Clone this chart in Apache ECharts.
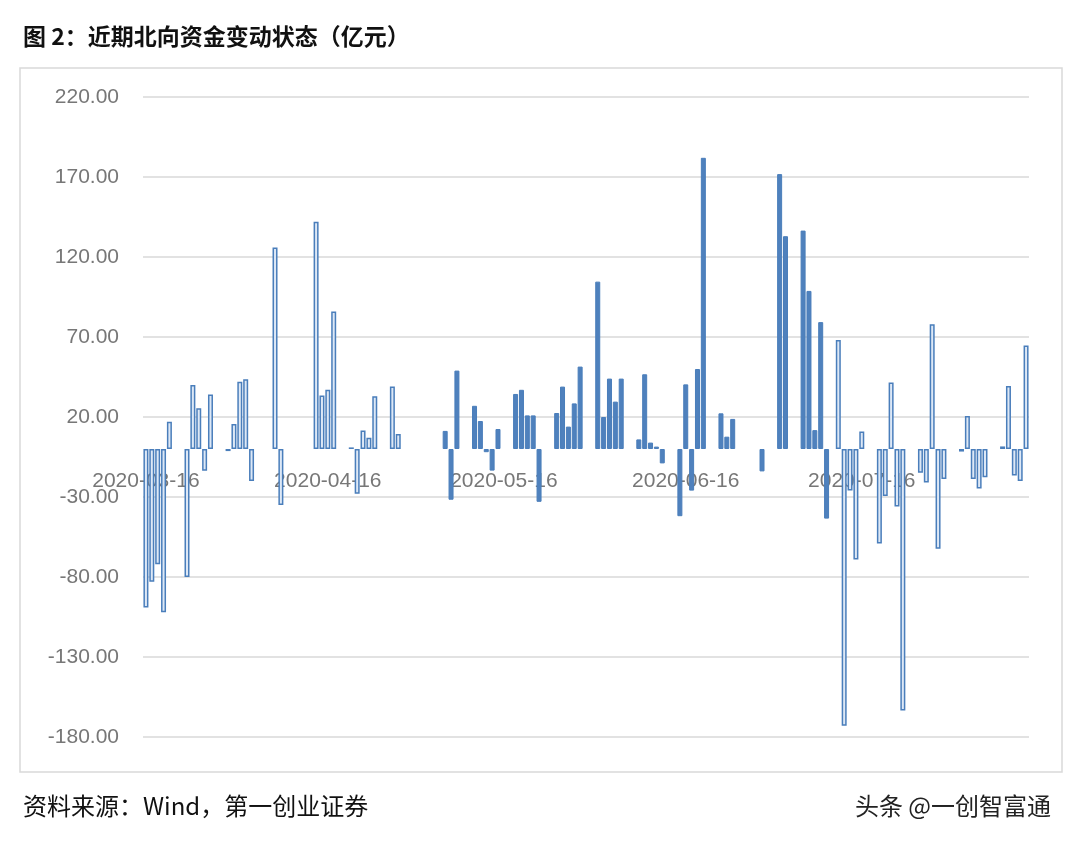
<!DOCTYPE html>
<html>
<head>
<meta charset="utf-8">
<script src="https://cdn.jsdelivr.net/npm/echarts@6/dist/echarts.min.js"></script>
<style>
body { margin: 0; background: #fff; }
#main { width: 1080px; height: 846px; }
</style>
</head>
<body>
<div id="main"></div>
<script>
// 日历天序号（从 2020-03-16 起）与当日北向资金净流入（亿元）
var dayIndex = [0, 1, 2, 3, 4, 7, 8, 9, 10, 11, 14, 15, 16, 17, 18, 22, 23, 29, 30, 31, 32,
	35, 36, 37, 38, 39, 42, 43,
	51, 52, 53, 56, 57, 58, 59, 60, 63, 64, 65, 66, 67, 70, 71, 72, 73, 74, 77, 78, 79, 80, 81,
	84, 85, 86, 87, 88, 91, 92, 93, 94, 95, 98, 99, 100,
	105, 108, 109, 112, 113, 114, 115, 116, 118, 119, 120, 121, 122, 125, 126, 127, 128, 129,
	132, 133, 134, 135, 136, 139, 140, 141, 142, 143, 146, 147, 148, 149, 150];
var netFlow = [-99, -83, -72, -102, 17, -80, 40, 25.5, -13.6, 34, -1.3, 15.7, 42, 43.6, -20, 126, -35, 142, 33.5, 37, 86,
	1, -28, 11.6, 7, 33, 39, 9.4,
	11.3, -31.7, 49, 27, 17.5, -2, -13.5, 12.5, 34.4, 37, 21, 21, -33, 22.5, 39, 14, 28.5, 51.5, 104.6, 20, 44, 29.6, 44,
	6, 46.7, 4, 1.5, -9, -42, 40.4, -26, 50, 182, 22.3, 7.7, 18.8,
	-14, 171.8, 133, 136.5, 98.8, 11.8, 79.3, -43.5, 68.2, -173, -26, -69, 11, -59, -29.4, 41.6, -36, -163.5,
	-14.8, -21, 78, -62.4, -18.8, -1.6, 20.7, -18.8, -24.7, -17.6, 1.6, 39.3, -16.5, -20, 64.7];
var startDate = '2020-03-16';
var dayCount = 151;
var yTicks = { min: -180, max: 220, step: 50 };

var pa = {
	buildDates: function() {
		var d0 = new Date(startDate + 'T00:00:00Z');
		var out = [];
		for (var i = 0; i < dayCount; i++) {
			var d = new Date(d0.getTime() + i * 86400000);
			out.push(d.toISOString().slice(0, 10));
		}
		return out;
	},
	buildSeries: function() {
		var arr = [];
		for (var i = 0; i < dayCount; i++) arr.push(null);
		for (var k = 0; k < dayIndex.length; k++) {
			var idx = dayIndex[k];
			var solid = idx > 44 && idx < 117;
			arr[idx] = {
				value : netFlow[k],
				itemStyle : solid ? { color : '#4f81bd', borderColor : '#4a7ebb', borderWidth : 1 }
					: { color : '#dde8f6', borderColor : '#4a7ebb', borderWidth : 1.5 }
			};
		}
		return arr;
	},
	render: function() {
		var chart = echarts.init(document.getElementById('main'));
		var option = {
			animation : false,
			title : [ {
				text : '图 2：近期北向资金变动状态（亿元）',
				left : 18, top : 20,
				textStyle : { fontSize : 23, fontWeight : 'bold', color : '#111',
					fontFamily : 'Noto Sans CJK SC' }
			}, {
				text : '资料来源：Wind，第一创业证券',
				left : 18, top : 789,
				textStyle : { fontSize : 24, fontWeight : 'normal', color : '#111',
					fontFamily : 'Noto Sans CJK SC' }
			}, {
				text : '头条 @一创智富通',
				right : 24, top : 789,
				textStyle : { fontSize : 24, fontWeight : 'normal', color : '#222',
					fontFamily : 'Noto Sans CJK SC' }
			} ],
			graphic : [ {
				type : 'rect',
				shape : { x : 20, y : 68, width : 1042, height : 704 },
				style : { fill : 'none', stroke : '#d9d9d9', lineWidth : 1.5 }
			} ],
			grid : { left : 143, top : 97, width : 886, height : 640 },
			xAxis : {
				type : 'category',
				data : pa.buildDates(),
				offset : -288,
				z : 0,
				axisLine : { show : false },
				axisTick : { show : false },
				axisLabel : {
					interval : 0,
					color : '#777', fontSize : 21, margin : 22,
					fontFamily : 'Liberation Sans',
					formatter : function(v) { return v.slice(8) === '16' && v < '2020-08' ? v : ''; }
				}
			},
			yAxis : {
				type : 'value',
				min : yTicks.min, max : yTicks.max, interval : yTicks.step,
				axisLine : { show : false },
				axisTick : { show : false },
				splitLine : { lineStyle : { color : '#d9d9d9', width : 1.5 } },
				axisLabel : {
					color : '#777', fontSize : 21, margin : 24,
					fontFamily : 'Liberation Sans',
					formatter : function(v) { return v.toFixed(2); }
				}
			},
			series : [ {
				type : 'bar',
				barWidth : 5,
				z : 10,
				data : pa.buildSeries()
			} ]
		};
		chart.setOption(option);
	}
};
pa.render();
</script>
</body>
</html>
